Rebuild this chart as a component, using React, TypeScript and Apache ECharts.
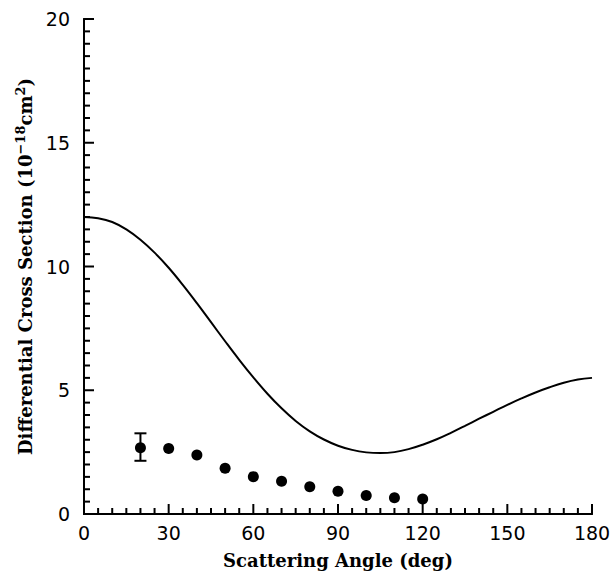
import React, { useEffect, useRef } from "react";
import * as echarts from "echarts";

// Theoretical curve (angle in deg, cross section)
const curveAngles = [0, 5, 10, 15, 20, 25, 30, 35, 40, 45, 50, 55, 60, 65, 70, 75, 80, 85, 90, 95, 100, 105, 110, 115, 120, 125, 130, 135, 140, 145, 150, 155, 160, 165, 170, 175, 180];
const curveValues = [12.0, 11.95, 11.8, 11.5, 11.08, 10.56, 9.95, 9.26, 8.52, 7.75, 6.98, 6.23, 5.52, 4.86, 4.27, 3.76, 3.34, 3.01, 2.76, 2.59, 2.49, 2.46, 2.5, 2.62, 2.8, 3.02, 3.28, 3.56, 3.85, 4.13, 4.41, 4.67, 4.91, 5.12, 5.3, 5.43, 5.5];

// Measured points
const dataAngles = [20, 30, 40, 50, 60, 70, 80, 90, 100, 110, 120];
const dataValues = [2.68, 2.65, 2.38, 1.85, 1.51, 1.32, 1.1, 0.92, 0.75, 0.66, 0.61];

// Error bars
const errAngles = [20];
const errLow = [2.15];
const errHigh = [3.26];

// Tick labels
const xTicks = [0, 30, 60, 90, 120, 150, 180];
const yTicks = [0, 5, 10, 15, 20];

function build() {
  const black = "#000";
  const serif = "DejaVu Serif";
  const sans = "DejaVu Sans";
  const tickData: number[][] = [];
  for (let v = 0; v <= 180; v += 5) tickData.push([0, v, xTicks.includes(v) ? 1 : 0]);
  for (let k = 0; k <= 40; k++) tickData.push([1, k * 0.5, yTicks.includes(k * 0.5) ? 1 : 0]);
  const plain = {
    type: "value",
    axisLine: { show: true, lineStyle: { color: black, width: 2 } },
    axisTick: { show: false },
    axisLabel: { show: false },
    splitLine: { show: false },
  };
  const x0: any = {
    type: "value",
    min: 0,
    max: 180,
    interval: 30,
    axisLine: { show: true, lineStyle: { color: black, width: 2 } },
    axisTick: { show: false },
    splitLine: { show: false },
    name: "Scattering Angle (deg)",
    nameLocation: "middle",
    nameGap: 37,
    nameTextStyle: { fontFamily: serif, fontWeight: "bold", fontSize: 18, color: black },
    axisLabel: { fontFamily: sans, fontSize: 19, color: black, margin: 9 },
  };
  const y0: any = {
    type: "value",
    min: 0,
    max: 20,
    interval: 5,
    axisLine: { show: true, lineStyle: { color: black, width: 2 } },
    axisTick: { show: false },
    splitLine: { show: false },
    name: "{a|Differential Cross Section (10}{s|−18}{a|cm}{s|2}{a|)}",
    nameLocation: "middle",
    nameRotate: 90,
    nameGap: 48,
    nameTextStyle: {
      rich: {
        a: { fontFamily: serif, fontWeight: "bold", fontSize: 18, color: black },
        s: { fontFamily: serif, fontWeight: "bold", fontSize: 13, color: black, padding: [0, 0, 9, 0] },
      },
    },
    axisLabel: { fontFamily: sans, fontSize: 19, color: black, margin: 14 },
  };
  const series: any[] = [
    {
      type: "line",
      data: curveAngles.map((a, i) => [a, curveValues[i]]),
      smooth: 0.4,
      showSymbol: false,
      lineStyle: { color: black, width: 2 },
      z: 2,
    },
    {
      type: "custom",
      clip: false,
      data: tickData,
      z: 4,
      renderItem: (p: any, api: any) => {
        const ax = api.value(0);
        const v = api.value(1);
        const len = api.value(2) === 1 ? 10 : 6;
        const style = { stroke: black, lineWidth: 2 };
        if (ax === 0) {
          const c = api.coord([v, 0]);
          return { type: "line", shape: { x1: c[0], y1: c[1], x2: c[0], y2: c[1] - len }, style };
        }
        const c = api.coord([0, v]);
        return { type: "line", shape: { x1: c[0], y1: c[1], x2: c[0] + len, y2: c[1] }, style };
      },
    },
    {
      type: "scatter",
      data: dataAngles.map((a, i) => [a, dataValues[i]]),
      symbolSize: 11,
      itemStyle: { color: black, opacity: 1 },
      z: 3,
    },
    {
      type: "custom",
      z: 3,
      data: errAngles.map((a, i) => [a, errLow[i], errHigh[i]]),
      renderItem: (p: any, api: any) => {
        const x = api.value(0);
        const lo = api.coord([x, api.value(1)]);
        const hi = api.coord([x, api.value(2)]);
        const style = { stroke: black, lineWidth: 2 };
        return {
          type: "group",
          children: [
            { type: "line", shape: { x1: lo[0], y1: lo[1], x2: hi[0], y2: hi[1] }, style },
            { type: "line", shape: { x1: lo[0] - 6, y1: lo[1], x2: lo[0] + 6, y2: lo[1] }, style },
            { type: "line", shape: { x1: hi[0] - 6, y1: hi[1], x2: hi[0] + 6, y2: hi[1] }, style },
          ],
        };
      },
    },
  ];
  return {
    animation: false,
    grid: { left: 84, right: 24, top: 19, bottom: 61 },
    xAxis: [x0, { ...plain, position: "top", min: 0, max: 180 }],
    yAxis: [y0, { ...plain, position: "right", min: 0, max: 20 }],
    series,
  };
}

function Chart() {
  const ref = useRef<HTMLDivElement>(null);
  useEffect(() => {
    if (!ref.current) return;
    const chart = echarts.init(ref.current, null, { renderer: "svg" });
    chart.setOption(build());
    return () => chart.dispose();
  }, []);
  return <div ref={ref} style={{ width: 616, height: 575 }} />;
}

export default function App() {
  useEffect(() => {
    document.body.style.margin = "0";
  }, []);
  return (
    <div style={{ display: "flex", flexWrap: "wrap", width: 616 }}>
      <Chart />
    </div>
  );
}
